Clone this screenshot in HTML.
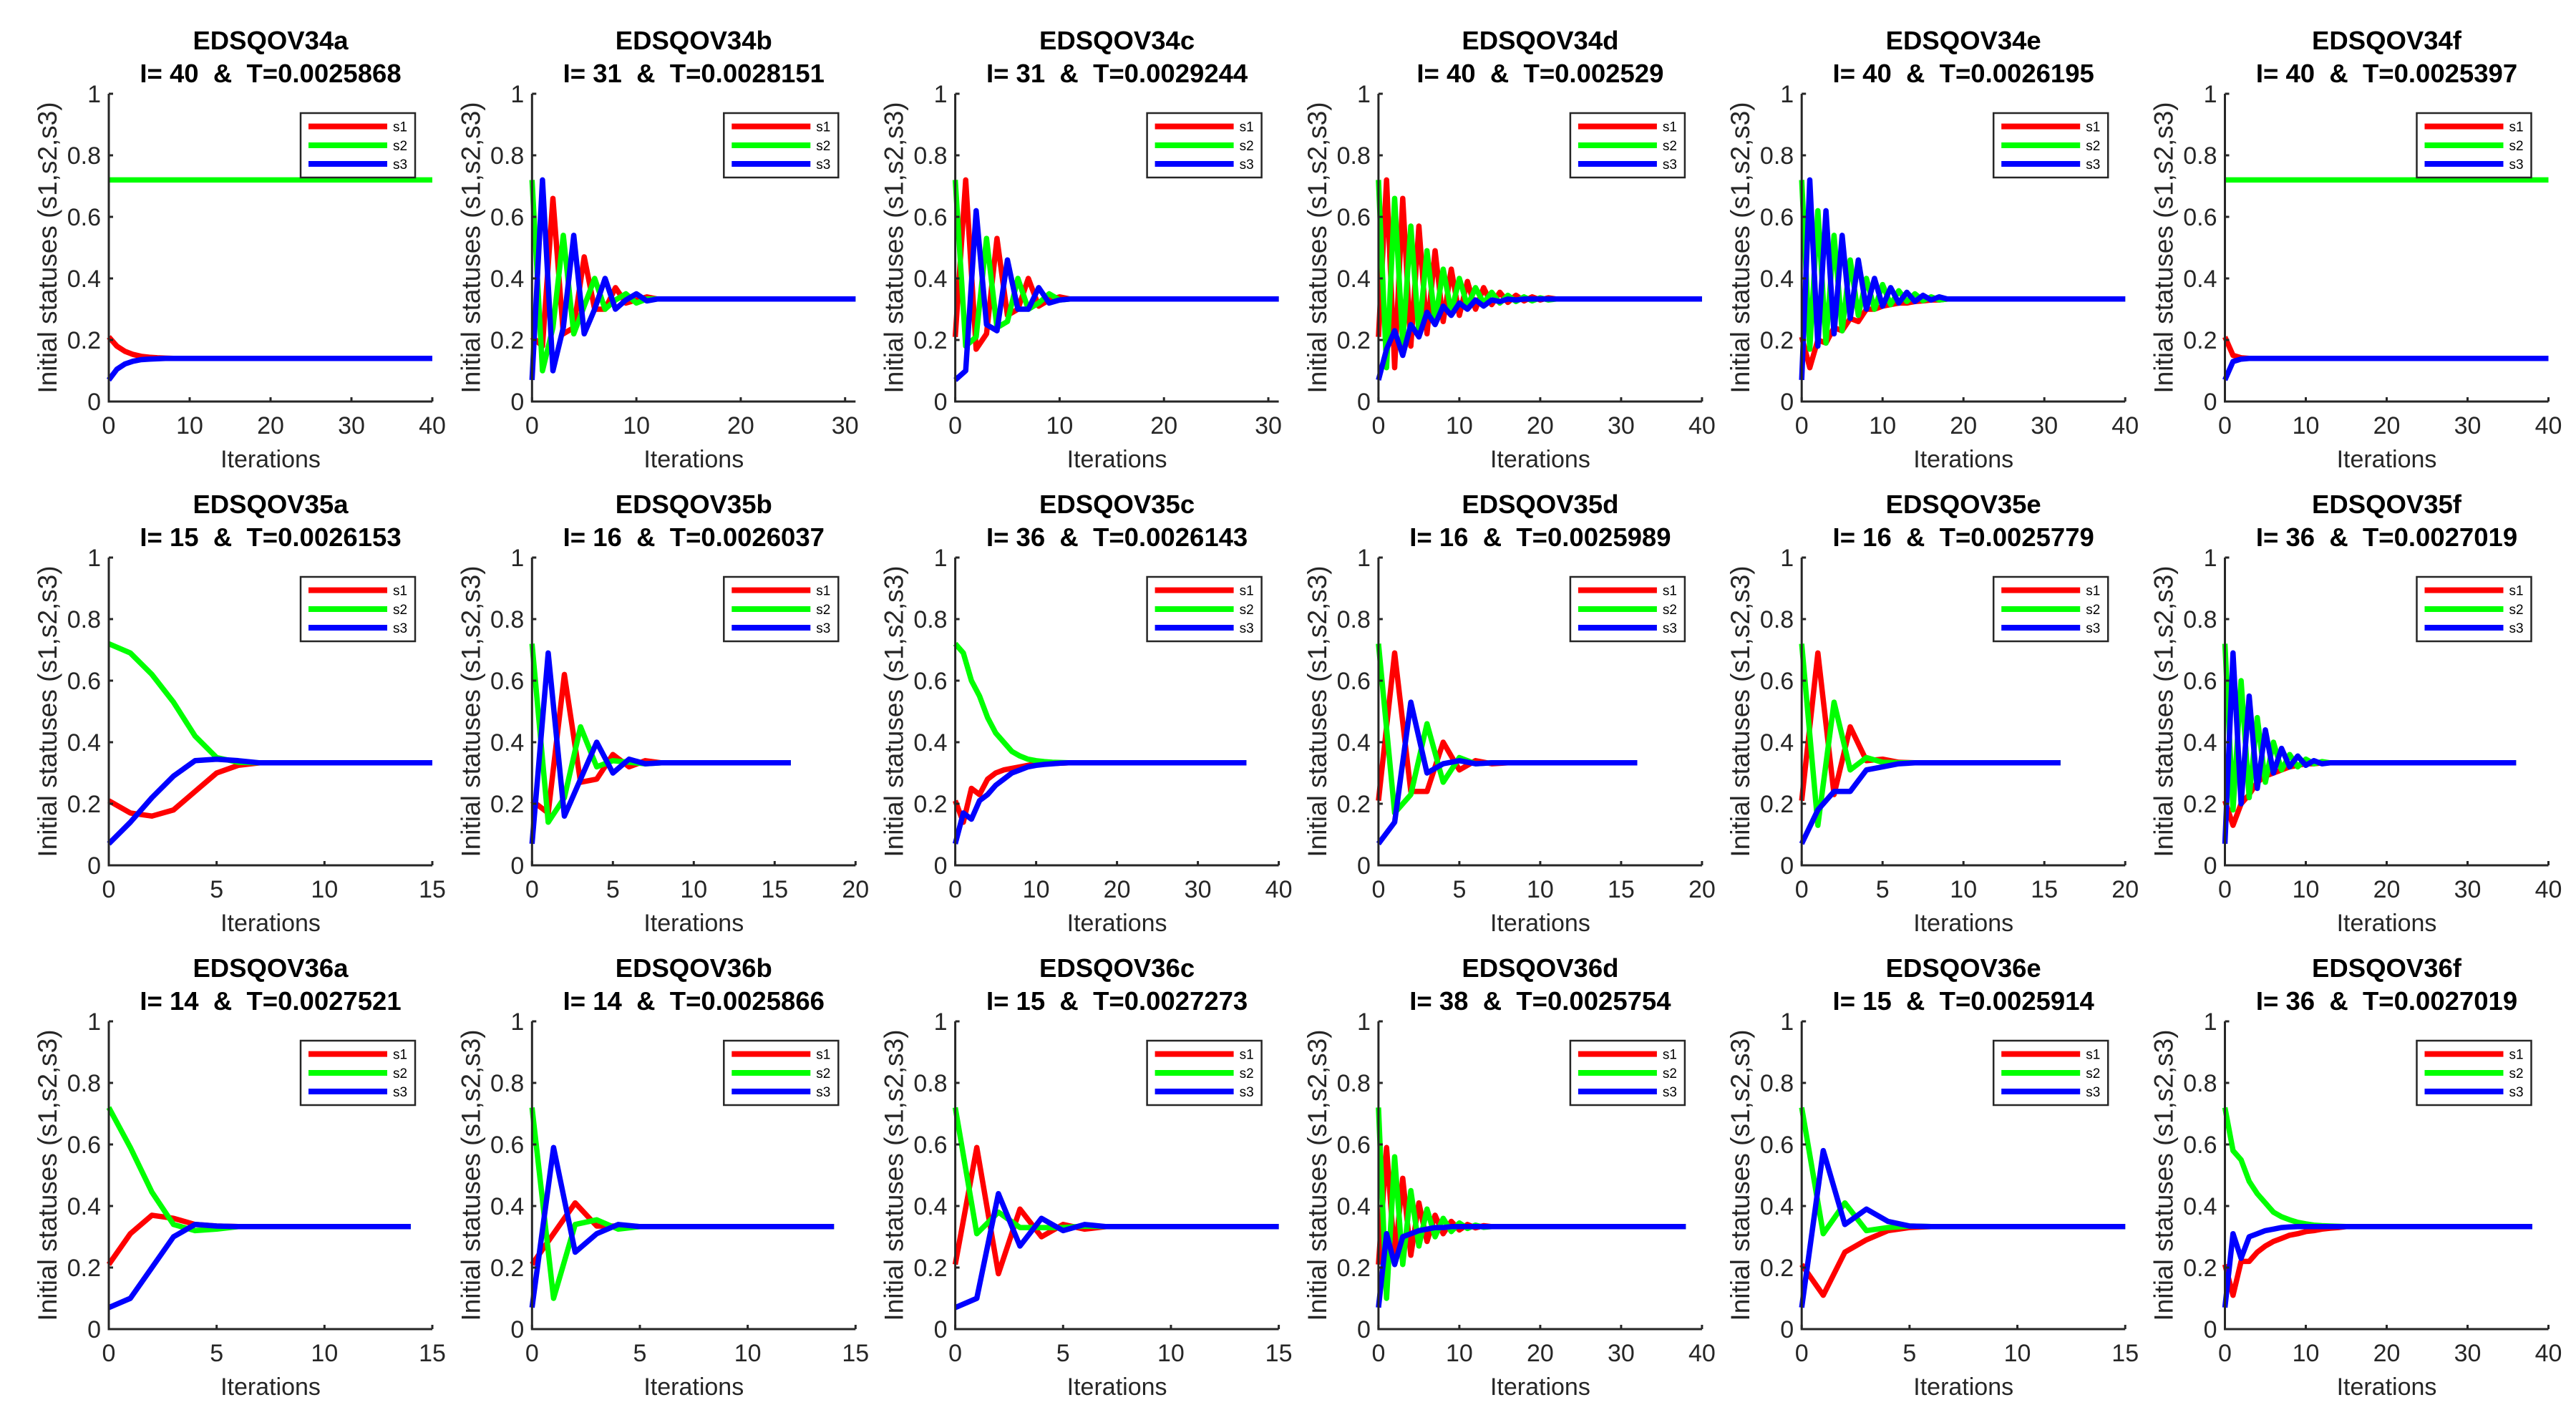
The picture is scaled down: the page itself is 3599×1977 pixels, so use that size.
<!DOCTYPE html>
<html><head><meta charset="utf-8"><title>EDSQOV convergence panels</title>
<style>
html,body{margin:0;padding:0;background:#fff;}
svg{display:block;font-family:"Liberation Sans",Arial,sans-serif;}
.tick{fill:#262626;font-size:34px;}
.ylab{fill:#262626;font-size:37px;}
.ttl{fill:#000;font-size:36.5px;font-weight:bold;white-space:pre;}
.lg{fill:#000;font-size:19px;}
</style></head>
<body>
<svg id="fig" width="3599" height="1977" viewBox="0 0 3599 1977" xmlns="http://www.w3.org/2000/svg"></svg>
<script>
const T10=[.333,.333,.333,.333,.333,.333,.333,.333,.333,.333];
const panelNames=["EDSQOV34a","EDSQOV34b","EDSQOV34c","EDSQOV34d","EDSQOV34e","EDSQOV34f","EDSQOV35a","EDSQOV35b","EDSQOV35c","EDSQOV35d","EDSQOV35e","EDSQOV35f","EDSQOV36a","EDSQOV36b","EDSQOV36c","EDSQOV36d","EDSQOV36e","EDSQOV36f"];
const panelIter=[40,31,31,40,40,40,15,16,36,16,16,36,14,14,15,38,15,36];
const panelTime=["0.0025868","0.0028151","0.0029244","0.002529","0.0026195","0.0025397","0.0026153","0.0026037","0.0026143","0.0025989","0.0025779","0.0027019","0.0027521","0.0025866","0.0027273","0.0025754","0.0025914","0.0027019"];
const panelXmax=[40,31,31,40,40,40,15,20,40,20,20,40,15,15,15,40,15,40];
const panelXTicks=[[0,10,20,30,40],[0,10,20,30],[0,10,20,30],[0,10,20,30,40],[0,10,20,30,40],[0,10,20,30,40],[0,5,10,15],[0,5,10,15,20],[0,10,20,30,40],[0,5,10,15,20],[0,5,10,15,20],[0,10,20,30,40],[0,5,10,15],[0,5,10,15],[0,5,10,15],[0,10,20,30,40],[0,5,10,15],[0,10,20,30,40]];
const yTicks=[0,0.2,0.4,0.6,0.8,1];
const yTickLabels=["0","0.2","0.4","0.6","0.8","1"];
const A14=[.14,.14,.14,.14,.14,.14,.14,.14,.14,.14];
const A72=[.72,.72,.72,.72,.72,.72,.72,.72,.72,.72];
const s1Series=[
 [.21,.18,.163,.153,.147,.144,.142,.141,.14].concat(A14,A14,A14,[.14,.14]),
 [.21,.18,.66,.22,.24,.47,.30,.30,.37,.32,.33,.34].concat(T10,T10),
 [.21,.72,.17,.22,.53,.28,.30,.40,.31,.33,.34].concat(T10,T10,[.333]),
 [.21,.72,.11,.66,.18,.57,.22,.49,.26,.43,.28,.39,.30,.37,.315,.355,.322,.345,.327,.34,.33,.337].concat(T10,[.333,.333,.333,.333,.333,.333,.333,.333,.333]),
 [.21,.11,.20,.19,.24,.23,.27,.26,.30,.30,.31,.315,.32,.32,.325,.327,.33,.33].concat(T10,T10,[.333,.333,.333]),
 [.21,.15,.142,.14].concat(A14,A14,A14,[.14,.14,.14,.14,.14,.14,.14]),
 [.21,.17,.16,.18,.24,.30,.325,.333,.333,.333,.333,.333,.333,.333,.333,.333],
 [.21,.17,.62,.27,.28,.36,.32,.34,.333,.333,.333,.333,.333,.333,.333,.333,.333],
 [.21,.14,.25,.23,.28,.30,.31,.315,.32,.325,.33,.33,.331,.332,.333].concat(T10,T10,[.333,.333]),
 [.21,.69,.24,.24,.40,.31,.34,.33,.333,.333,.333,.333,.333,.333,.333,.333,.333],
 [.21,.69,.23,.45,.34,.345,.335,.333,.333,.333,.333,.333,.333,.333,.333,.333,.333],
 [.21,.13,.20,.23,.27,.29,.30,.31,.32,.325,.33,.33,.333,.333].concat(T10,T10,[.333,.333,.333]),
 [.21,.31,.37,.36,.34,.335,.333,.333,.333,.333,.333,.333,.333,.333,.333],
 [.21,.31,.41,.335,.335,.333,.333,.333,.333,.333,.333,.333,.333,.333,.333],
 [.21,.59,.18,.39,.30,.34,.325,.333,.333,.333,.333,.333,.333,.333,.333,.333],
 [.21,.59,.23,.49,.24,.41,.285,.37,.31,.35,.322,.34,.329,.336,.333].concat(T10,T10,[.333,.333,.333,.333]),
 [.21,.11,.25,.29,.32,.33,.333,.333,.333,.333,.333,.333,.333,.333,.333,.333],
 [.21,.11,.22,.22,.25,.27,.285,.295,.305,.31,.317,.32,.325,.328,.33,.333].concat(T10,T10,[.333,.333,.333])
];
const s2Series=[
 A72.concat(A72,A72,A72,[.72]),
 [.72,.10,.24,.54,.22,.31,.40,.30,.33,.35,.32,.333].concat(T10,T10),
 [.72,.18,.21,.53,.24,.26,.40,.30,.32,.35,.33].concat(T10,T10,[.333]),
 [.72,.11,.66,.19,.57,.22,.49,.26,.43,.29,.40,.31,.37,.32,.355,.32,.345,.325,.34,.327,.337,.33].concat(T10,[.333,.333,.333,.333,.333,.333,.333,.333,.333]),
 [.72,.17,.62,.19,.54,.23,.46,.28,.40,.30,.38,.315,.36,.325,.35,.328,.34,.33].concat(T10,T10,[.333,.333,.333]),
 A72.concat(A72,A72,A72,[.72]),
 [.72,.69,.62,.53,.42,.35,.335,.333,.333,.333,.333,.333,.333,.333,.333,.333],
 [.72,.14,.22,.45,.32,.34,.335,.33,.333,.333,.333,.333,.333,.333,.333,.333,.333],
 [.72,.69,.60,.55,.48,.43,.40,.37,.355,.345,.34,.337,.335,.334,.333].concat(T10,T10,[.333,.333]),
 [.72,.17,.23,.46,.27,.35,.33,.333,.333,.333,.333,.333,.333,.333,.333,.333,.333],
 [.72,.13,.53,.31,.35,.335,.333,.333,.333,.333,.333,.333,.333,.333,.333,.333,.333],
 [.72,.18,.60,.22,.48,.27,.40,.31,.36,.32,.345,.33,.337,.333].concat(T10,T10,[.333,.333,.333]),
 [.72,.59,.445,.34,.32,.325,.333,.333,.333,.333,.333,.333,.333,.333,.333],
 [.72,.10,.34,.355,.325,.333,.333,.333,.333,.333,.333,.333,.333,.333,.333],
 [.72,.31,.38,.33,.33,.33,.335,.333,.333,.333,.333,.333,.333,.333,.333,.333],
 [.72,.10,.56,.21,.45,.27,.39,.30,.36,.317,.345,.327,.338,.331,.333].concat(T10,T10,[.333,.333,.333,.333]),
 [.72,.31,.41,.32,.33,.335,.333,.333,.333,.333,.333,.333,.333,.333,.333,.333],
 [.72,.58,.55,.48,.44,.41,.38,.365,.355,.347,.342,.338,.336,.335,.334,.333].concat(T10,T10,[.333,.333,.333])
];
const s3Series=[
 [.07,.105,.122,.131,.136,.138,.139,.14].concat(A14,A14,A14,[.14,.14,.14]),
 [.07,.72,.10,.24,.54,.22,.30,.40,.30,.33,.35,.327].concat(T10,T10),
 [.07,.10,.62,.25,.23,.46,.30,.30,.37,.32,.33].concat(T10,T10,[.333]),
 [.07,.17,.23,.15,.25,.21,.29,.25,.31,.28,.32,.30,.33,.31,.33,.325,.333,.33,.333,.333,.333,.333].concat(T10,[.333,.333,.333,.333,.333,.333,.333,.333,.333]),
 [.07,.72,.18,.62,.22,.54,.27,.46,.30,.40,.31,.37,.32,.355,.325,.345,.33,.34].concat(T10,T10,[.333,.333,.333]),
 [.07,.13,.138,.14].concat(A14,A14,A14,[.14,.14,.14,.14,.14,.14,.14]),
 [.07,.14,.22,.29,.34,.345,.34,.333,.333,.333,.333,.333,.333,.333,.333,.333],
 [.07,.69,.16,.28,.40,.30,.345,.33,.333,.333,.333,.333,.333,.333,.333,.333,.333],
 [.07,.17,.15,.21,.23,.26,.28,.30,.31,.32,.325,.328,.33,.332,.333].concat(T10,T10,[.333,.333]),
 [.07,.14,.53,.30,.33,.34,.33,.333,.333,.333,.333,.333,.333,.333,.333,.333,.333],
 [.07,.18,.24,.24,.31,.32,.33,.333,.333,.333,.333,.333,.333,.333,.333,.333,.333],
 [.07,.69,.20,.55,.25,.44,.30,.38,.32,.355,.325,.34,.33,.333].concat(T10,T10,[.333,.333,.333]),
 [.07,.10,.20,.30,.34,.335,.333,.333,.333,.333,.333,.333,.333,.333,.333],
 [.07,.59,.25,.31,.34,.333,.333,.333,.333,.333,.333,.333,.333,.333,.333],
 [.07,.10,.44,.27,.36,.32,.34,.333,.333,.333,.333,.333,.333,.333,.333,.333],
 [.07,.31,.21,.30,.31,.32,.325,.33,.33,.333,.333,.333,.333,.333,.333].concat(T10,T10,[.333,.333,.333,.333]),
 [.07,.58,.34,.39,.35,.335,.333,.333,.333,.333,.333,.333,.333,.333,.333,.333],
 [.07,.31,.23,.30,.31,.32,.325,.33,.332,.333,.333,.333,.333,.333,.333,.333].concat(T10,T10,[.333,.333,.333])
];
const seriesLabels=["s1","s2","s3"];
const seriesColors=["#ff0000","#00ff00","#0000ff"];

const NS="http://www.w3.org/2000/svg";
const svg=document.getElementById("fig");
function mk(tag,attrs,parent){const e=document.createElementNS(NS,tag);for(const k in attrs)e.setAttribute(k,attrs[k]);(parent||svg).appendChild(e);return e;}

for(let k=0;k<panelNames.length;k++){
  const c=k%6,r=Math.floor(k/6);
  const L=152+c*591.3,T=131+r*648,W=452,H=430,B=T+H;
  const xs=v=>L+v/panelXmax[k]*W;
  const ys=v=>B-v*H;
  const g=mk("g",{});
  
  
  const t1=mk("text",{x:L+W/2,y:T-62,"text-anchor":"middle",class:"ttl"},g);
  t1.textContent=panelNames[k];
  
  
  const t2=mk("text",{x:L+W/2,y:T-16,"text-anchor":"middle",class:"ttl"},g);
  t2.textContent="I= "+panelIter[k]+"  &  T="+panelTime[k];
  
  
  const allS=[s1Series[k],s2Series[k],s3Series[k]];
  for(let s=0;s<3;s++){
    const pts=allS[s].map((v,i)=>xs(i).toFixed(1)+","+ys(v).toFixed(1)).join(" ");
    const pl=mk("polyline",{points:pts,fill:"none",stroke:seriesColors[s],"stroke-width":7.5,"stroke-linejoin":"round"},g);
    
    
  }
  const ax=mk("path",{d:`M${L},${T} V${B} H${L+W}`,fill:"none",stroke:"#262626","stroke-width":3},g);
  
  
  for(const tv of panelXTicks[k]){
    const x=xs(tv);
    const tk=mk("line",{x1:x,x2:x,y1:B,y2:B-6,stroke:"#262626","stroke-width":3},g);
    
    
    const tl=mk("text",{x:x,y:B+45,"text-anchor":"middle",class:"tick"},g);
    tl.textContent=String(tv);
    
    
  }
  for(let j=0;j<yTicks.length;j++){
    const y=ys(yTicks[j]);
    const tk=mk("line",{x1:L,x2:L+6,y1:y,y2:y,stroke:"#262626","stroke-width":3},g);
    
    
    const tl=mk("text",{x:L-11,y:y+12,"text-anchor":"end",class:"tick"},g);
    tl.textContent=yTickLabels[j];
    
    
  }
  const xl=mk("text",{x:L+W/2,y:B+92,"text-anchor":"middle",class:"tick"},g);
  xl.textContent="Iterations";
  
  
  const yl=mk("text",{x:0,y:0,"text-anchor":"middle",class:"ylab",transform:`translate(${L-73},${T+H/2}) rotate(-90)`},g);
  yl.textContent="Initial statuses (s1,s2,s3)";
  
  
  const lgG=mk("g",{},g);
  
  
  const bx=L+268,by=T+27;
  mk("rect",{x:bx,y:by,width:160,height:90,fill:"#fff",stroke:"#262626","stroke-width":2.5},lgG);
  const rowsY=[18.6,45,71];
  for(let s=0;s<3;s++){
    const ln=mk("line",{x1:bx+11,x2:bx+121,y1:by+rowsY[s],y2:by+rowsY[s],stroke:seriesColors[s],"stroke-width":8},lgG);
    
    
    const lt=mk("text",{x:bx+129,y:by+rowsY[s]+7,class:"lg"},lgG);
    lt.textContent=seriesLabels[s];
    
    
  }
}
</script>
</body></html>
